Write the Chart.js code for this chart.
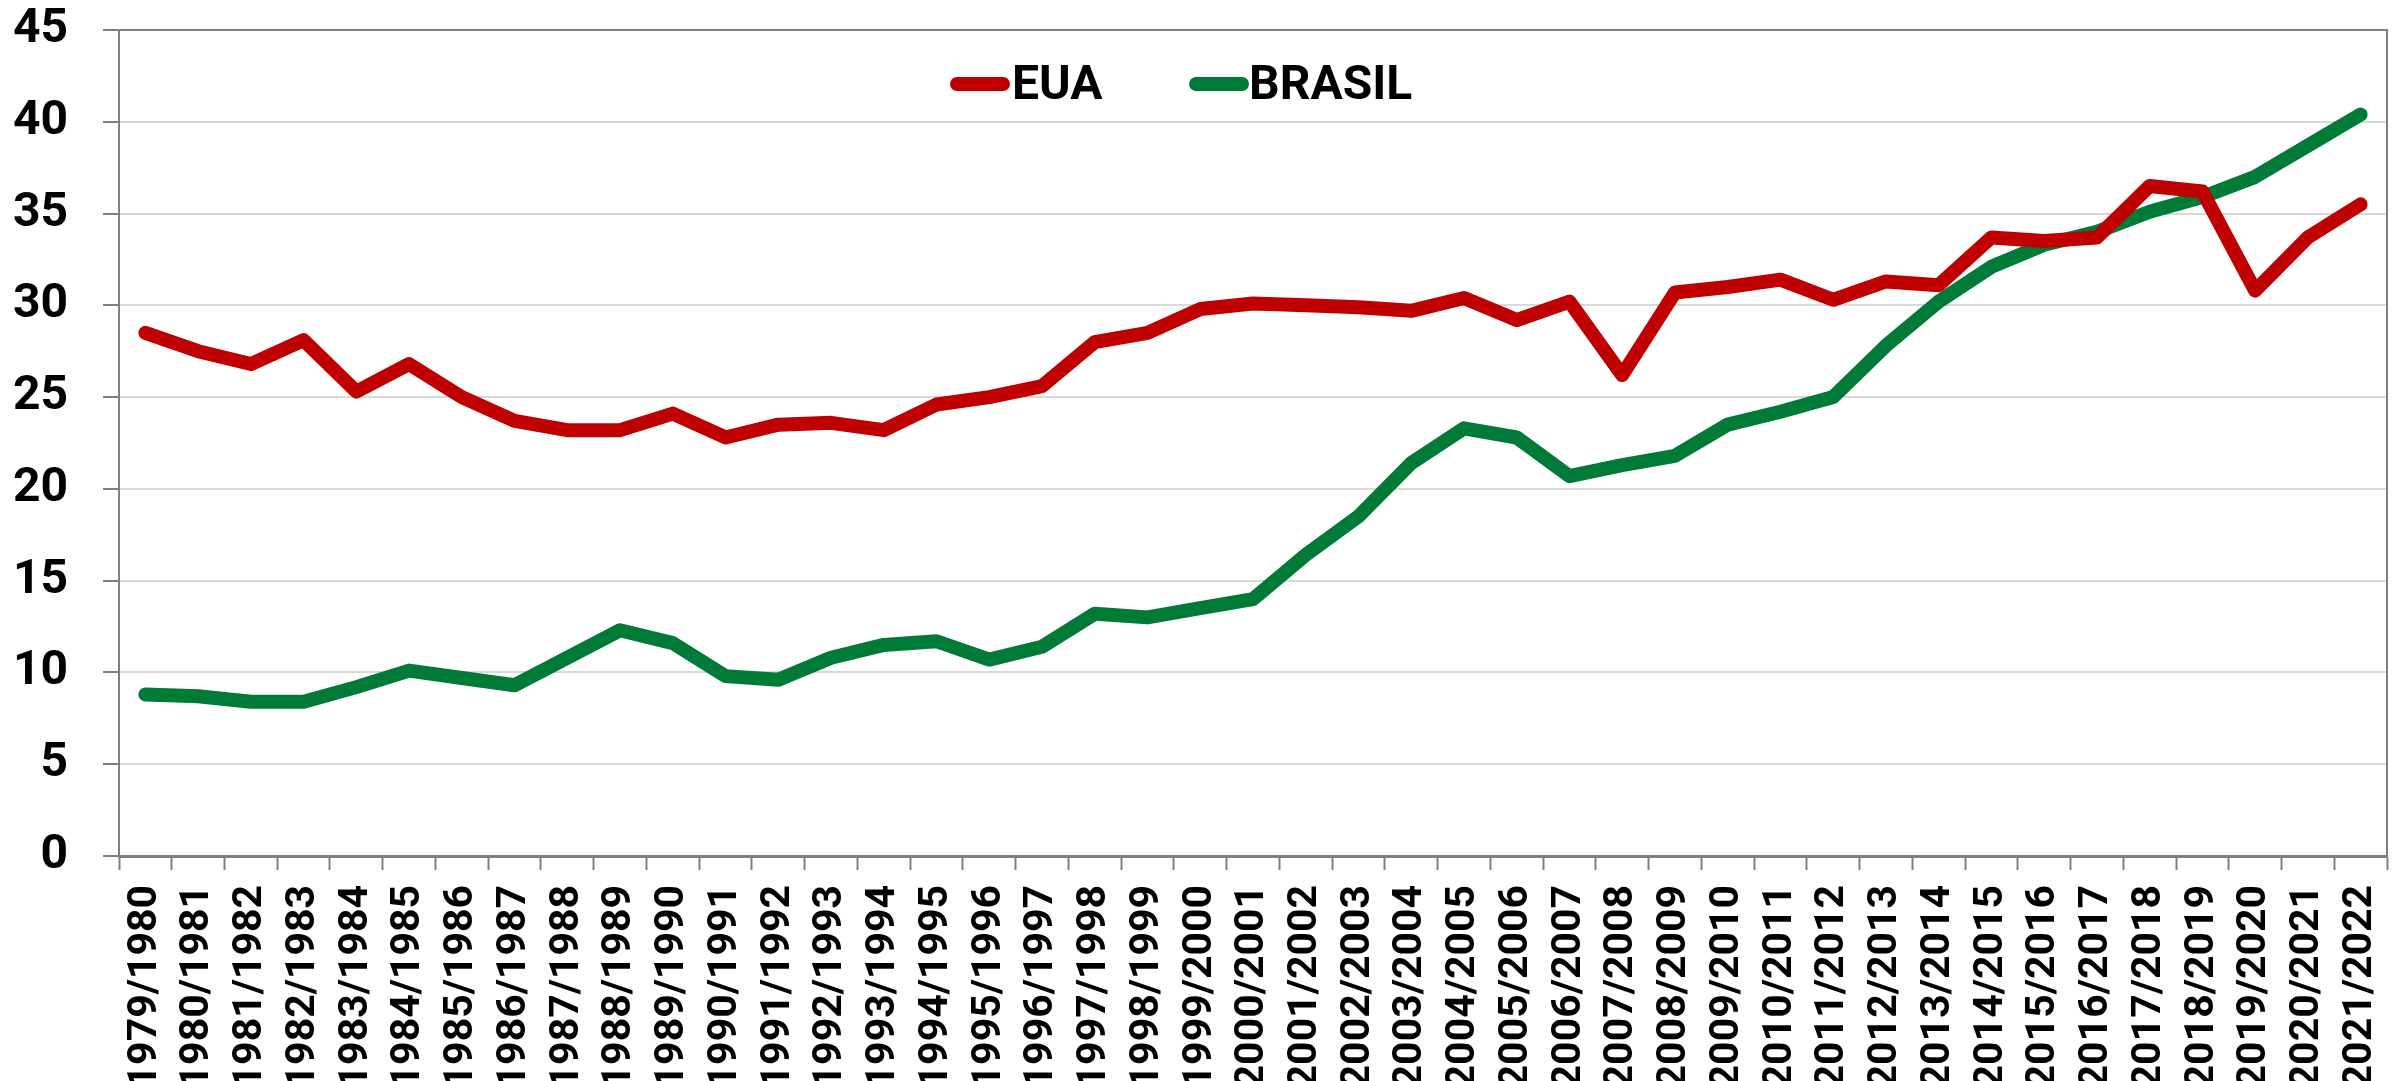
<!DOCTYPE html>
<html>
<head>
<meta charset="utf-8">
<script src="https://cdn.jsdelivr.net/npm/chart.js@4.4.1/dist/chart.umd.min.js"></script>
<style>
  html, body { margin: 0; padding: 0; background: #fff; overflow: hidden; }
  #wrap { position: relative; width: 2402px; height: 1081px; }
</style>
</head>
<body>
<div id="wrap"><canvas id="chart"></canvas></div>
<script>
// ===== Data =====
const seasons = [
  '1979/1980', '1980/1981', '1981/1982', '1982/1983', '1983/1984', '1984/1985',
  '1985/1986', '1986/1987', '1987/1988', '1988/1989', '1989/1990', '1990/1991',
  '1991/1992', '1992/1993', '1993/1994', '1994/1995', '1995/1996', '1996/1997',
  '1997/1998', '1998/1999', '1999/2000', '2000/2001', '2001/2002', '2002/2003',
  '2003/2004', '2004/2005', '2005/2006', '2006/2007', '2007/2008', '2008/2009',
  '2009/2010', '2010/2011', '2011/2012', '2012/2013', '2013/2014', '2014/2015',
  '2015/2016', '2016/2017', '2017/2018', '2018/2019', '2019/2020', '2020/2021',
  '2021/2022'
];

const eua = [
  28.5, 27.5, 26.8, 28.1, 25.3, 26.8, 25.0, 23.7, 23.2, 23.2, 24.1, 22.8,
  23.5, 23.6, 23.2, 24.6, 25.0, 25.6, 28.0, 28.5, 29.8, 30.1, 30.0, 29.9,
  29.7, 30.4, 29.2, 30.2, 26.2, 30.7, 31.0, 31.4, 30.3, 31.3, 31.1, 33.7,
  33.5, 33.7, 36.5, 36.2, 30.8, 33.7, 35.5
];

const brasil = [
  8.8, 8.7, 8.4, 8.4, 9.2, 10.1, 9.7, 9.3, 10.8, 12.3, 11.6, 9.8,
  9.6, 10.8, 11.5, 11.7, 10.7, 11.4, 13.2, 13.0, 13.5, 14.0, 16.4, 18.5,
  21.4, 23.3, 22.8, 20.7, 21.3, 21.8, 23.5, 24.2, 25.0, 27.8, 30.2, 32.1,
  33.3, 34.0, 35.1, 35.9, 37.0, 38.7, 40.4
];

const yTicks = [0, 5, 10, 15, 20, 25, 30, 35, 40, 45];

const RED = '#C00000';
const GREEN = '#007A37';
const AXIS_GRAY = '#7F7F7F';
const GRID_GRAY = '#D9D9D9';

// ===== Plugins =====
// frame around the plot (top and right edges)
const plotFrame = {
  id: 'plotFrame',
  afterDraw(chart) {
    const { ctx, chartArea: a } = chart;
    ctx.save();
    ctx.strokeStyle = AXIS_GRAY;
    ctx.lineWidth = 2;
    ctx.beginPath();
    ctx.moveTo(a.left, a.top);
    ctx.lineTo(a.right, a.top);
    ctx.lineTo(a.right, a.bottom);
    ctx.stroke();
    ctx.restore();
  }
};

// legend sitting inside the plot, under the top border
const innerLegend = {
  id: 'innerLegend',
  afterDraw(chart) {
    const { ctx } = chart;
    const slots = [
      { lineX: 957, textX: 1012 },
      { lineX: 1196, textX: 1249 }
    ];
    ctx.save();
    ctx.font = 'bold 48px Roboto';
    ctx.textBaseline = 'alphabetic';
    ctx.textAlign = 'left';
    chart.data.datasets.forEach((ds, i) => {
      const s = slots[i];
      ctx.strokeStyle = ds.borderColor;
      ctx.lineWidth = 14;
      ctx.lineCap = 'round';
      ctx.beginPath();
      ctx.moveTo(s.lineX, 84);
      ctx.lineTo(s.lineX + 46, 84);
      ctx.stroke();
      ctx.fillStyle = '#000';
      ctx.fillText(ds.label, s.textX, 99);
    });
    ctx.restore();
  }
};

// ===== Chart =====
const ctx = document.getElementById('chart').getContext('2d');
const chart = new Chart(ctx, {
  type: 'line',
  data: {
    labels: seasons,
    datasets: [
      {
        label: 'EUA',
        data: eua,
        borderColor: RED,
        backgroundColor: RED,
        borderWidth: 14,
        borderCapStyle: 'round',
        borderJoinStyle: 'round',
        pointRadius: 0,
        tension: 0
      },
      {
        label: 'BRASIL',
        data: brasil,
        borderColor: GREEN,
        backgroundColor: GREEN,
        borderWidth: 14,
        borderCapStyle: 'round',
        borderJoinStyle: 'round',
        pointRadius: 0,
        tension: 0
      }
    ]
  },
  options: {
    responsive: true,
    maintainAspectRatio: false,
    animation: false,
    layout: { padding: { left: 14, right: 15, top: 0, bottom: 0 } },
    plugins: {
      legend: { display: false },
      tooltip: { enabled: false }
    },
    scales: {
      x: {
        offset: true,
        // labels run past the bottom edge and get cut, like the original
        afterFit: (axis) => {
          axis.height = 225;
          axis.paddingLeft = 0;
          axis.paddingRight = 0;
        },
        grid: {
          offset: true,
          drawOnChartArea: false,
          drawTicks: true,
          tickLength: 14,
          tickColor: AXIS_GRAY,
          tickWidth: 2
        },
        border: { color: AXIS_GRAY, width: 3 },
        ticks: {
          color: '#000',
          font: { family: 'Roboto', size: 41, weight: 'bold' },
          minRotation: 90,
          maxRotation: 90,
          autoSkip: false,
          padding: 15
        }
      },
      y: {
        min: 0,
        max: 45,
        afterBuildTicks: (axis) => { axis.ticks = yTicks.map(v => ({ value: v })); },
        afterFit: (axis) => {
          axis.width = 105;
          axis.paddingTop = 30;
          axis.paddingBottom = 0;
        },
        grid: {
          color: (c) => c.tick && c.tick.value === 45 ? AXIS_GRAY : GRID_GRAY,
          lineWidth: 2,
          tickLength: 16,
          tickColor: AXIS_GRAY,
          tickWidth: 2
        },
        border: { color: AXIS_GRAY, width: 2 },
        ticks: {
          color: '#000',
          font: { family: 'Roboto', size: 48, weight: 'bold' },
          padding: 35
        }
      }
    }
  },
  plugins: [plotFrame, innerLegend]
});
</script>
</body>
</html>
